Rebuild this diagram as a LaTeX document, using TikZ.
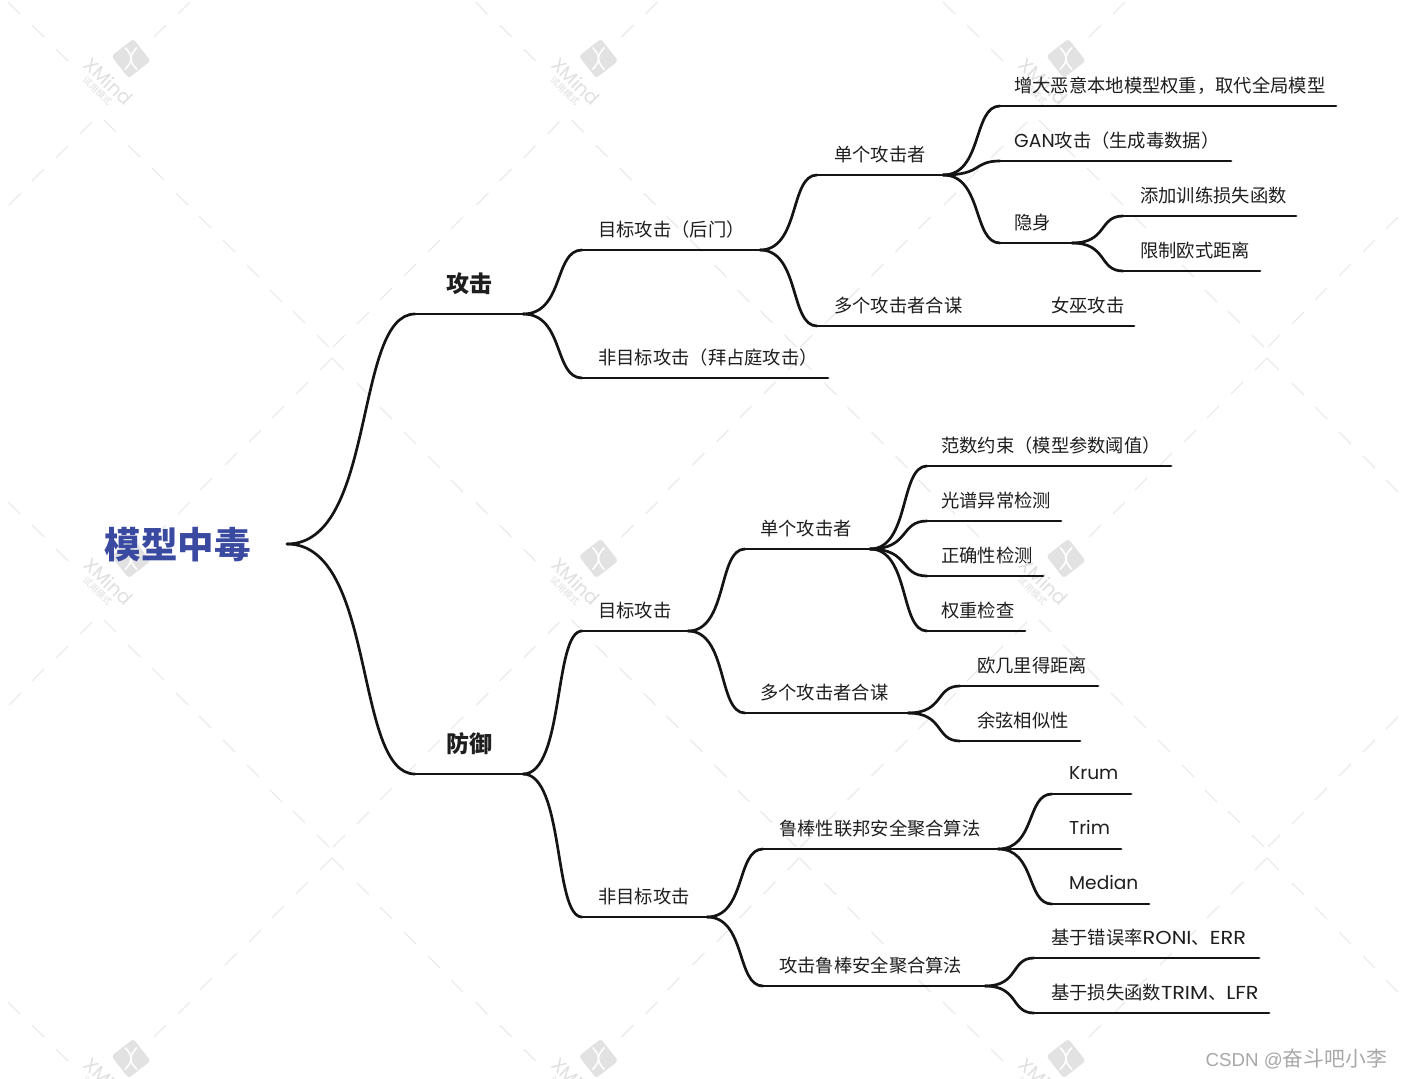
\documentclass[tikz,border=0pt]{standalone}
\usepackage{fontspec}
\usetikzlibrary{calc}
\setmainfont{Noto Sans CJK SC}
\newfontfamily\cjk{Noto Sans CJK SC}
\newfontfamily\latn{Poppins}
\newfontfamily\latnw[FakeStretch=1.11]{Poppins}
\newfontfamily\signlat{Liberation Sans}
\newcommand{\lat}[1]{{\latn\fontsize{18.8}{22}\selectfont #1}}
\newcommand{\latup}[1]{\raisebox{0.9pt}{\latn\fontsize{18.6}{22}\selectfont #1}}
\newcommand{\latcap}[1]{{\latnw\fontsize{18.8}{22}\selectfont #1}}
\definecolor{inkline}{HTML}{141414}
\definecolor{inktext}{HTML}{1E1E1E}
\definecolor{titleblue}{HTML}{3A4AA0}
\definecolor{wmdash}{HTML}{EBEBEB}
\definecolor{wmlogo}{HTML}{E2E2E2}
\definecolor{wmtext}{HTML}{E0E0E0}
\definecolor{csdn}{HTML}{A8A8A8}
\tikzset{
  branch/.style={draw=inkline,line width=2.7pt,line cap=round},
  topictext/.style={anchor=base west,inner sep=0pt,text=inktext,font=\cjk\fontsize{18.3}{22}\selectfont},
  maintext/.style={anchor=base west,inner sep=0pt,text=inktext,font=\cjk\bfseries\fontsize{23}{26}\selectfont},
  roottext/.style={anchor=base west,inner sep=0pt,text=titleblue,font=\cjk\bfseries\fontsize{36.5}{40}\selectfont},
  wmd/.style={draw=wmdash,line width=1.2pt},
  wmname/.style={text=wmtext,inner sep=0pt,rotate=-44,font=\latn\fontsize{19}{20}\selectfont},
  wmsub/.style={text=wmtext,inner sep=0pt,rotate=-44,font=\cjk\fontsize{9}{10}\selectfont},
  sign/.style={anchor=base east,inner sep=0pt,text=csdn}
}
% name, line start x, line end x, line y, text x, text
\newcommand{\topic}[6]{%
  \coordinate (#1-s) at (#2,#4);
  \coordinate (#1-e) at (#3,#4);
  \node[topictext] (#1) at (#5,#4-14) {#6};
  \draw[branch] (#1-s) -- (#1-e);
}
\newcommand{\linkto}[2]{%
  \coordinate (ma) at ($(#1-e)!0.70!(#2-s)$);
  \coordinate (mb) at ($(#1-e)!0.52!(#2-s)$);
  \draw[branch] (#1-e) .. controls (ma |- #1-e) and (mb |- #2-s) .. (#2-s);
}
\begin{document}
\begin{tikzpicture}[x=1pt,y=-1pt]
\useasboundingbox (0,0) rectangle (1401,1079);
\fill[white] (0,0) rectangle (1401,1079);
% watermark
\begin{scope}
\foreach \ox/\oi in {0/a,467.5/b,935/c} {
  \foreach \oy/\oj in {0/a,500/b,1000/c} {
    \begin{scope}[shift={(\ox,\oy)}]
      \foreach \px/\py in {8/2,32/25,56/49,104/120,128/145,152/168,176/193,199/216,223/240,247/265,270/290,293/311,317/335,332/358,357/383,380/407,404/432,428/456,451/480}
        \draw[wmd] (\px,\py) -- ++(12,12);
      \foreach \px/\py in {190/2,166/25,92/122,68/146,44/169,21/193,463/217,440/240,416/264,392/288,369/312,345/335,332/358,308/382,284/406,261/430,237/453,212/478}
        \draw[wmd] (\px,\py) -- ++(-12,12);
      \begin{scope}[shift={(131,58.5)}]
        \begin{scope}[rotate=38]
          \fill[wmlogo,rounded corners=3pt] (-14,-14) rectangle (14,14);
        \end{scope}
        \draw[white,line width=1.6pt] (-6,-11) .. controls (2,-3) and (2,3) .. (-6,11);
        \draw[white,line width=1.6pt] (6,-11) .. controls (-2,-3) and (-2,3) .. (6,11);
      \end{scope}
      \node[wmname] (wmx\oi\oj) at (108.5,81.5) {XMind};
      \node[wmsub] (wms\oi\oj) at (97.5,91) {试用模式};
    \end{scope}
  }
}
\end{scope}
% root
\node[roottext] (root) at (104.5,558) {模型中毒};
\coordinate (root-e) at (287,544);
% first level
\coordinate (atk-s) at (415,314);
\coordinate (atk-e) at (523,314);
\node[maintext] (atk) at (446,292.5) {攻击};
\draw[branch] (atk-s) -- (atk-e);
\coordinate (def-s) at (415,774);
\coordinate (def-e) at (523,774);
\node[maintext] (def) at (446,752) {防御};
\draw[branch] (def-s) -- (def-e);
% attack branch
\topic{tb}{582}{760}{250}{598}{目标攻击（后门）}
\topic{ntb}{582}{828}{378}{598}{非目标攻击（拜占庭攻击）}
\topic{as}{817}{943}{175}{834}{单个攻击者}
\topic{am}{817}{1034}{326}{834}{多个攻击者合谋}
\topic{am1}{1034}{1134}{326}{1051}{女巫攻击}
\topic{a1}{1000}{1336}{106}{1014}{增大恶意本地模型权重，取代全局模型}
\topic{a2}{1000}{1231}{161}{1014}{\lat{GAN}攻击（生成毒数据）}
\topic{a3}{1000}{1072}{243}{1014}{隐身}
\topic{a31}{1123}{1296}{216}{1140}{添加训练损失函数}
\topic{a32}{1123}{1260}{271}{1140}{限制欧式距离}
% defence branch
\topic{dt}{582}{688}{631}{598}{目标攻击}
\topic{dn}{582}{707}{917}{598}{非目标攻击}
\topic{ds}{745}{870}{549}{760}{单个攻击者}
\topic{dm}{745}{908}{713}{760}{多个攻击者合谋}
\topic{d1}{927}{1171}{466}{941}{范数约束（模型参数阈值）}
\topic{d2}{927}{1061}{521}{941}{光谱异常检测}
\topic{d3}{927}{1043}{576}{941}{正确性检测}
\topic{d4}{927}{1025}{631}{941}{权重检查}
\topic{d5}{960}{1098}{686}{977}{欧几里得距离}
\topic{d6}{960}{1080}{741}{977}{余弦相似性}
\topic{dr}{763}{998}{849}{779}{鲁棒性联邦安全聚合算法}
\topic{da}{763}{985}{986}{779}{攻击鲁棒安全聚合算法}
\topic{k1}{1052}{1131}{794}{1069}{\latup{Krum}}
\topic{k2}{1052}{1121}{849}{1069}{\latup{Trim}}
\topic{k3}{1052}{1149}{904}{1069}{\latup{Median}}
\topic{e1}{1034}{1259}{958}{1051}{基于错误率\latcap{RONI}、\latcap{ERR}}
\topic{e2}{1034}{1269}{1013}{1051}{基于损失函数\latcap{TRIM}、\latcap{LFR}}
% connectors
\linkto{root}{atk}
\linkto{root}{def}
\linkto{atk}{tb}
\linkto{atk}{ntb}
\linkto{tb}{as}
\linkto{tb}{am}
\linkto{as}{a1}
\linkto{as}{a2}
\linkto{as}{a3}
\linkto{a3}{a31}
\linkto{a3}{a32}
\linkto{def}{dt}
\linkto{def}{dn}
\linkto{dt}{ds}
\linkto{dt}{dm}
\linkto{ds}{d1}
\linkto{ds}{d2}
\linkto{ds}{d3}
\linkto{ds}{d4}
\linkto{dm}{d5}
\linkto{dm}{d6}
\linkto{dn}{dr}
\linkto{dn}{da}
\linkto{dr}{k1}
\linkto{dr}{k2}
\linkto{dr}{k3}
\linkto{da}{e1}
\linkto{da}{e2}
% signature
\node[sign] (sig) at (1387,1066) {{\signlat\fontsize{18.7}{22}\selectfont CSDN @}{\cjk\fontsize{20.8}{22}\selectfont 奋斗吧小李}};
\end{tikzpicture}
\end{document}
